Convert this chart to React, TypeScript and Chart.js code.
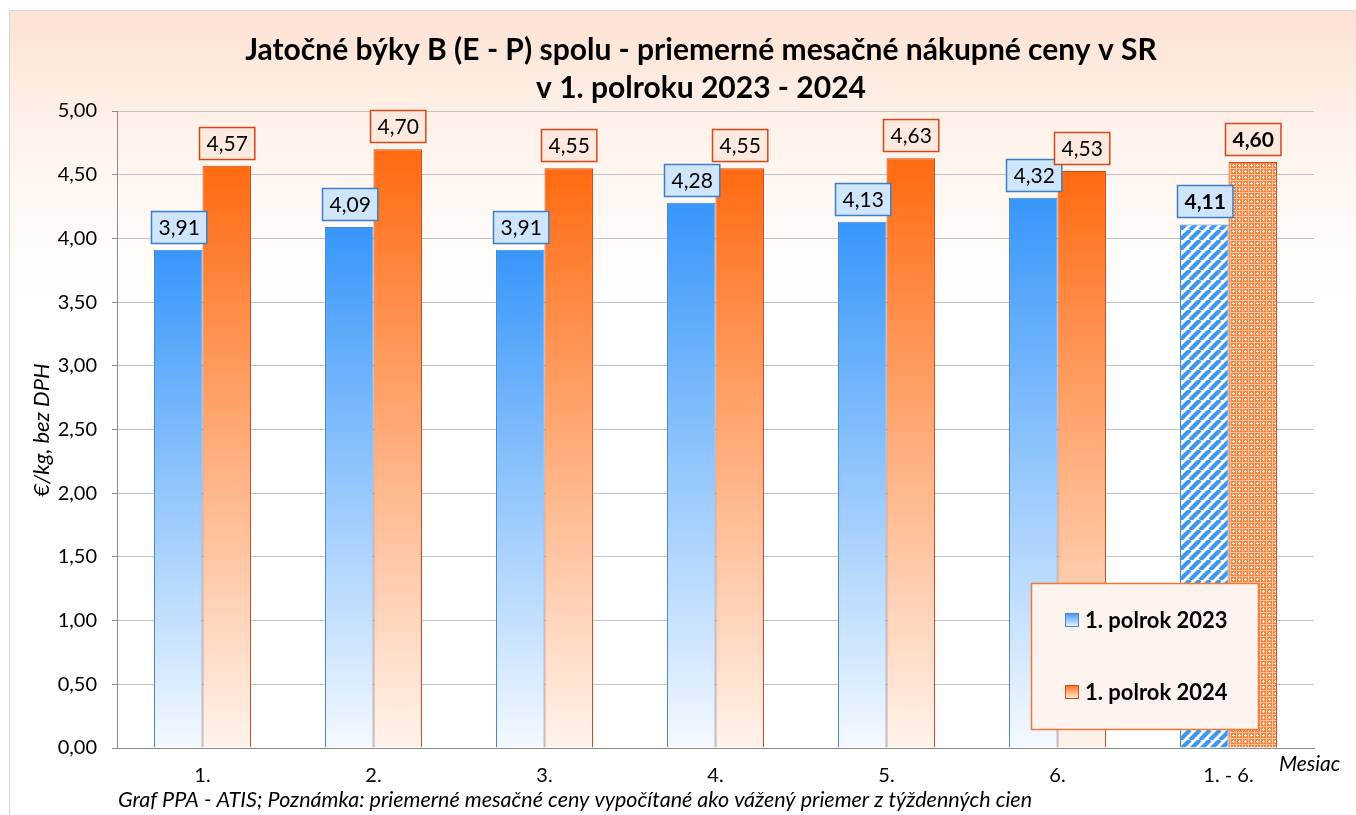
import React, { useEffect, useRef } from 'react';
import { Chart, registerables } from 'chart.js';

Chart.register(...registerables);

const TITLE_LINES = [
  'Jatočné býky B (E - P) spolu - priemerné mesačné nákupné ceny v SR',
  'v 1. polroku 2023 - 2024',
];
const CATEGORIES = ['1.', '2.', '3.', '4.', '5.', '6.', '1. - 6.'];
const SERIES_NAMES = ['1. polrok 2023', '1. polrok 2024'];
const VALUES_2023 = [3.91, 4.09, 3.91, 4.28, 4.13, 4.32, 4.11];
const VALUES_2024 = [4.57, 4.7, 4.55, 4.55, 4.63, 4.53, 4.6];
const Y_MIN = 0;
const Y_MAX = 5;
const Y_STEP = 0.5;
const Y_TITLE = '€/kg, bez DPH';
const X_TITLE = 'Mesiac';
const FOOTNOTE =
  'Graf PPA - ATIS; Poznámka: priemerné mesačné ceny vypočítané ako vážený priemer z týždenných cien';

const FONT = 'Lato, "Noto Sans", sans-serif';
const fmt = (v: number) => v.toFixed(2).replace('.', ',');

const BLUE_TOP = '#3796fa';
const BLUE_BOTTOM = '#f4f9ff';
const BLUE_BORDER = '#4a86c8';
const ORANGE_TOP = '#ff6a10';
const ORANGE_BOTTOM = '#fff3ec';
const ORANGE_BORDER = '#d2481a';

function makeStripePattern(): CanvasPattern | string {
  const c = document.createElement('canvas');
  c.width = 10;
  c.height = 10;
  const g = c.getContext('2d')!;
  g.fillStyle = '#ffffff';
  g.fillRect(0, 0, 10, 10);
  g.strokeStyle = '#3d97ee';
  g.lineWidth = 4.2;
  for (let k = -10; k <= 20; k += 10) {
    g.beginPath();
    g.moveTo(k, 10);
    g.lineTo(k + 10, 0);
    g.stroke();
  }
  return g.createPattern(c, 'repeat') || '#3d8fe0';
}

function makeCrossPattern(): CanvasPattern | string {
  const c = document.createElement('canvas');
  c.width = 6;
  c.height = 6;
  const g = c.getContext('2d')!;
  g.fillStyle = '#f6843c';
  g.fillRect(0, 0, 6, 6);
  g.fillStyle = '#fbc3a0';
  g.fillRect(0, 0, 6, 1);
  g.fillRect(0, 0, 1, 6);
  g.fillStyle = '#ffeee4';
  g.fillRect(3, 2, 1, 3);
  g.fillRect(2, 3, 3, 1);
  return g.createPattern(c, 'repeat') || '#f47a30';
}

export default function App() {
  const ref = useRef<HTMLCanvasElement>(null);

  useEffect(() => {
    document.body.style.margin = '0';
    const canvas = ref.current!;
    const stripe = makeStripePattern();
    const cross = makeCrossPattern();

    const barFill = (top: string, bottom: string, pattern: any) => (ctx: any) => {
      const chart = ctx.chart;
      const n = ctx.chart.data.labels.length;
      if (ctx.dataIndex === n - 1) return pattern;
      const y = chart.scales?.y;
      if (!y || !chart.chartArea) return top;
      const v = ctx.raw as number;
      const yTop = y.getPixelForValue(v);
      const yBot = y.getPixelForValue(0);
      const gr = chart.ctx.createLinearGradient(0, yTop, 0, yBot);
      gr.addColorStop(0, top);
      gr.addColorStop(1, bottom);
      return gr;
    };

    const backgroundPlugin = {
      id: 'bgPlugin',
      beforeDraw(chart: any) {
        const c = chart.ctx;
        c.save();
        c.fillStyle = '#ffffff';
        c.fillRect(0, 0, chart.width, chart.height);
        const gr = c.createLinearGradient(0, 10, 0, 300);
        gr.addColorStop(0, '#fce2d2');
        gr.addColorStop(0.45, '#fef3ec');
        gr.addColorStop(1, '#ffffff');
        c.fillStyle = gr;
        c.fillRect(9, 10, chart.width - 9, chart.height - 10);
        c.strokeStyle = '#d9d9d9';
        c.lineWidth = 1;
        c.strokeRect(9.5, 10.5, chart.width, chart.height);
        c.restore();
      },
    };

    const textPlugin = {
      id: 'textPlugin',
      afterDraw(chart: any) {
        const c = chart.ctx;
        c.save();
        c.fillStyle = '#000000';
        c.textAlign = 'center';
        c.textBaseline = 'middle';
        c.font = `bold 30px ${FONT}`;
        c.fillText(TITLE_LINES[0], 701, 50);
        c.fillText(TITLE_LINES[1], 701, 88);

        c.font = `italic 22px ${FONT}`;
        c.save();
        c.translate(42, 430);
        c.rotate(-Math.PI / 2);
        c.fillText(Y_TITLE, 0, 0);
        c.restore();

        c.textAlign = 'left';
        c.font = `italic 21px ${FONT}`;
        c.fillText(X_TITLE, 1279, 764);
        c.font = `italic 21.5px ${FONT}`;
        c.fillText(FOOTNOTE, 118, 800);
        c.restore();
      },
    };

    const labelPlugin = {
      id: 'labelPlugin',
      afterDatasetsDraw(chart: any) {
        const c = chart.ctx;
        c.save();
        chart.data.datasets.forEach((ds: any, di: number) => {
          const meta = chart.getDatasetMeta(di);
          const isBlue = di === 0;
          meta.data.forEach((el: any, i: number) => {
            const last = i === ds.data.length - 1;
            const text = fmt(ds.data[i]);
            c.font = `${last ? 'bold ' : ''}21px ${FONT}`;
            const w = c.measureText(text).width + 14;
            const h = 32;
            const bottom = el.y - 7;
            const x0 = Math.round(el.x - w / 2) + 0.5;
            const y0 = Math.round(bottom - h) + 0.5;
            c.fillStyle = isBlue ? '#cfe5fb' : '#fde9dd';
            c.fillRect(x0, y0, w, h);
            c.strokeStyle = isBlue ? '#3b7fc4' : '#d2481a';
            c.lineWidth = 1.5;
            c.strokeRect(x0, y0, w, h);
            c.fillStyle = '#000000';
            c.textAlign = 'center';
            c.textBaseline = 'middle';
            c.fillText(text, x0 + w / 2, y0 + h / 2 + 1);
          });
        });
        c.restore();
      },
    };

    const legendPlugin = {
      id: 'boxLegend',
      afterDraw(chart: any) {
        const c = chart.ctx;
        c.save();
        const bx = 1031.5, by = 583.5, bw = 227, bh = 146;
        c.fillStyle = '#fdf3ee';
        c.fillRect(bx, by, bw, bh);
        c.strokeStyle = '#f07a35';
        c.lineWidth = 1.5;
        c.strokeRect(bx, by, bw, bh);
        const rows = [620, 692];
        const cols = [
          [BLUE_TOP, BLUE_BOTTOM, BLUE_BORDER],
          [ORANGE_TOP, ORANGE_BOTTOM, ORANGE_BORDER],
        ];
        chart.data.datasets.forEach((ds: any, i: number) => {
          const y = rows[i];
          const gr = c.createLinearGradient(0, y - 7, 0, y + 7);
          gr.addColorStop(0, cols[i][0]);
          gr.addColorStop(1, cols[i][1]);
          c.fillStyle = gr;
          c.fillRect(1065.5, y - 6.5, 13, 13);
          c.strokeStyle = cols[i][2];
          c.lineWidth = 1;
          c.strokeRect(1065.5, y - 6.5, 13, 13);
          c.fillStyle = '#000000';
          c.font = `bold 22px ${FONT}`;
          c.textAlign = 'left';
          c.textBaseline = 'middle';
          c.fillText(ds.label, 1085, y + 1);
        });
        c.restore();
      },
    };

    const chart = new Chart(canvas, {
      type: 'bar',
      data: {
        labels: CATEGORIES,
        datasets: [
          {
            label: SERIES_NAMES[0],
            data: VALUES_2023,
            backgroundColor: barFill(BLUE_TOP, BLUE_BOTTOM, stripe),
            borderColor: BLUE_BORDER,
            borderWidth: 1,
            categoryPercentage: 0.567,
            barPercentage: 1,
          },
          {
            label: SERIES_NAMES[1],
            data: VALUES_2024,
            backgroundColor: barFill(ORANGE_TOP, ORANGE_BOTTOM, cross),
            borderColor: ORANGE_BORDER,
            borderWidth: 1,
            categoryPercentage: 0.567,
            barPercentage: 1,
          },
        ],
      },
      options: {
        responsive: false,
        animation: false,
        devicePixelRatio: 1,
        layout: { padding: { left: 0, right: 42, top: 111, bottom: 0 } },
        plugins: {
          legend: { display: false },
          title: { display: false },
          tooltip: { enabled: false },
        },
        scales: {
          x: {
            grid: { display: false, drawTicks: false },
            border: { display: true, color: '#8c8c8c', width: 1 },
            ticks: {
              color: '#000000',
              font: { family: FONT, size: 20 },
              padding: 16,
              maxRotation: 0,
              autoSkip: false,
            },
            afterFit(scale: any) {
              scale.height = 67;
            },
          },
          y: {
            min: Y_MIN,
            max: Y_MAX,
            ticks: {
              stepSize: Y_STEP,
              color: '#000000',
              font: { family: FONT, size: 20 },
              padding: 15,
              callback: (v: any) => fmt(Number(v)),
            },
            grid: {
              color: '#c3c3c3',
              lineWidth: 1,
              drawTicks: true,
              tickLength: 5,
              tickColor: '#8c8c8c',
            },
            border: { display: true, color: '#8c8c8c', width: 1 },
            afterFit(scale: any) {
              scale.width = 117;
            },
          },
        },
      },
      plugins: [backgroundPlugin, labelPlugin, legendPlugin, textPlugin],
    });

    return () => chart.destroy();
  }, []);

  return (
    <div style={{ position: 'absolute', left: 0, top: 0, width: 1356, height: 815 }}>
      <canvas ref={ref} width={1356} height={815} />
    </div>
  );
}
